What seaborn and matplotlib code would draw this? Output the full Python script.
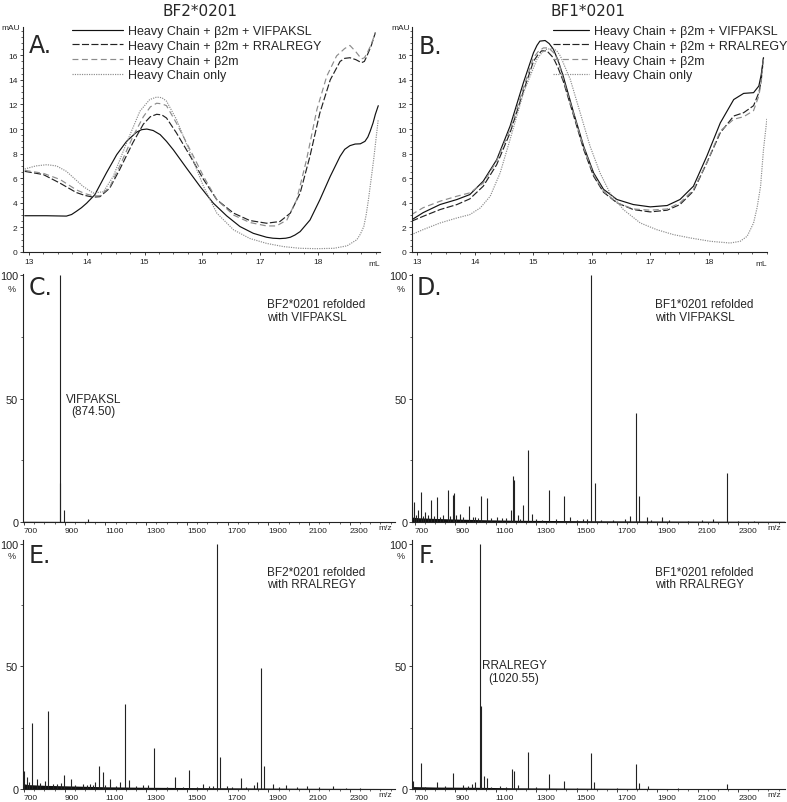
import matplotlib
matplotlib.use("Agg")
import matplotlib.pyplot as plt
import seaborn as sns
from matplotlib.ticker import MultipleLocator

W, H = 787, 803

# legend labels
labels = ["Heavy Chain + β2m + VIFPAKSL", "Heavy Chain + β2m + RRALREGY",
          "Heavy Chain + β2m", "Heavy Chain only"]

# --- chromatogram A: BF2*0201 (mL vs mAU) ---
a_vif_x = [12.93, 13.30, 13.65, 13.74, 13.82, 13.91, 14.00, 14.14, 14.34, 14.52, 14.69, 14.86, 14.95, 15.04, 15.15,
           15.27, 15.38, 15.50, 15.73, 15.96, 16.19, 16.42, 16.65, 16.88, 17.11, 17.22, 17.34, 17.44, 17.52, 17.60,
           17.69, 17.86, 18.03, 18.21, 18.38, 18.46, 18.55, 18.64, 18.73, 18.81, 18.86, 18.90, 18.95, 18.99, 19.04]
a_vif_y = [2.95, 2.95, 2.92, 3.05, 3.30, 3.60, 3.97, 4.65, 6.42, 7.92, 9.00, 9.74, 9.95, 10.0, 9.88,
           9.55, 9.00, 8.30, 6.80, 5.33, 3.97, 2.94, 2.07, 1.52, 1.20, 1.12, 1.09, 1.12, 1.20, 1.38,
           1.66, 2.60, 4.24, 6.15, 7.78, 8.35, 8.65, 8.78, 8.80, 9.00, 9.35, 9.82, 10.5, 11.2, 11.9]
a_rra_x = [12.93, 13.25, 13.54, 13.82, 13.97, 14.11, 14.23, 14.40, 14.57, 14.80, 14.98, 15.10, 15.21, 15.30, 15.38,
           15.55, 15.79, 16.02, 16.25, 16.54, 16.82, 17.11, 17.34, 17.52, 17.69, 17.86, 18.03, 18.21, 18.38, 18.46,
           18.55, 18.65, 18.75, 18.80, 18.84, 18.92, 18.99]
a_rra_y = [6.56, 6.30, 5.60, 4.84, 4.60, 4.46, 4.50, 5.20, 6.70, 8.90, 10.4, 11.0, 11.2, 11.15, 10.9,
           9.70, 7.80, 5.90, 4.25, 3.16, 2.56, 2.34, 2.48, 3.16, 4.80, 7.80, 11.3, 14.0, 15.5, 15.75,
           15.8, 15.65, 15.4, 15.5, 15.9, 16.8, 17.85]
a_b2m_x = [12.93, 13.25, 13.54, 13.82, 13.97, 14.11, 14.23, 14.40, 14.57, 14.80, 14.98, 15.10, 15.21, 15.30, 15.38,
           15.55, 15.79, 16.02, 16.25, 16.54, 16.82, 17.11, 17.28, 17.46, 17.63, 17.80, 17.98, 18.15, 18.32, 18.46,
           18.55, 18.65, 18.75, 18.80, 18.84, 18.92, 18.99]
a_b2m_y = [6.64, 6.40, 5.90, 5.06, 4.75, 4.57, 4.57, 5.30, 6.97, 9.40, 11.0, 11.8, 12.1, 12.05, 11.9,
           10.5, 8.30, 6.15, 4.25, 3.00, 2.40, 2.12, 2.12, 2.60, 4.25, 7.50, 11.6, 14.3, 15.95, 16.55,
           16.8, 16.3, 15.7, 15.8, 16.1, 16.9, 17.85]
a_hc_x = [12.93, 13.12, 13.31, 13.48, 13.65, 13.94, 14.11, 14.29, 14.46, 14.69, 14.92, 15.09, 15.21, 15.30, 15.38,
          15.55, 15.79, 16.02, 16.25, 16.54, 16.82, 17.11, 17.40, 17.69, 17.98, 18.27, 18.50, 18.67, 18.73, 18.79,
          18.83, 18.87, 18.96, 19.04]
a_hc_y = [6.75, 7.0, 7.10, 7.0, 6.56, 5.33, 4.80, 4.90, 6.15, 8.87, 11.45, 12.4, 12.6, 12.55, 12.27,
          10.8, 8.05, 5.33, 3.16, 1.80, 1.10, 0.70, 0.44, 0.30, 0.27, 0.30, 0.50, 1.00, 1.45, 2.07,
          3.0, 4.25, 7.50, 10.8]

# --- chromatogram B: BF1*0201 ---
b_vif_x = [12.91, 13.11, 13.40, 13.69, 13.91, 14.14, 14.37, 14.60, 14.83, 15.00, 15.06, 15.11, 15.20, 15.27, 15.34,
           15.42, 15.51, 15.69, 15.86, 16.03, 16.20, 16.43, 16.71, 17.00, 17.29, 17.51, 17.74, 17.97, 18.20, 18.43,
           18.60, 18.77, 18.86, 18.90, 18.94]
b_vif_y = [2.6, 3.2, 3.86, 4.27, 4.67, 5.76, 7.5, 10.24, 13.8, 16.2, 16.8, 17.15, 17.2, 16.95, 16.5,
           15.6, 14.3, 11.3, 8.6, 6.44, 5.1, 4.27, 3.86, 3.67, 3.78, 4.27, 5.35, 7.8, 10.5, 12.4,
           12.9, 12.96, 13.5, 14.4, 15.8]
b_rra_x = [12.91, 13.11, 13.40, 13.69, 13.91, 14.14, 14.37, 14.60, 14.83, 15.00, 15.07, 15.14, 15.23, 15.34, 15.42,
           15.51, 15.69, 15.86, 16.03, 16.20, 16.43, 16.71, 17.00, 17.29, 17.51, 17.74, 17.97, 18.20, 18.43, 18.60,
           18.77, 18.86, 18.90, 18.94]
b_rra_y = [2.5, 2.9, 3.45, 3.86, 4.32, 5.35, 7.1, 9.7, 13.1, 15.5, 16.0, 16.36, 16.36, 15.8, 15.0,
           13.9, 11.06, 8.34, 6.17, 4.86, 4.0, 3.45, 3.26, 3.4, 3.86, 4.95, 7.26, 9.7, 11.06, 11.33,
           11.9, 12.96, 13.9, 15.8]
b_b2m_x = [12.91, 13.11, 13.40, 13.69, 13.91, 14.14, 14.37, 14.60, 14.83, 15.00, 15.08, 15.17, 15.26, 15.37, 15.44,
           15.51, 15.69, 15.86, 16.03, 16.20, 16.43, 16.71, 17.00, 17.29, 17.51, 17.74, 17.97, 18.20, 18.43, 18.60,
           18.77, 18.86, 18.90, 18.94]
b_b2m_y = [3.04, 3.6, 4.13, 4.54, 4.81, 5.6, 7.4, 9.97, 13.37, 15.8, 16.3, 16.6, 16.6, 16.1, 15.3,
           14.05, 11.2, 8.5, 6.3, 4.95, 4.0, 3.5, 3.4, 3.5, 4.0, 5.08, 7.26, 9.84, 10.8, 11.0,
           11.5, 12.7, 13.8, 15.7]
b_hc_x = [12.91, 13.11, 13.40, 13.69, 13.91, 14.09, 14.26, 14.43, 14.60, 14.83, 15.06, 15.15, 15.23, 15.34, 15.40,
          15.46, 15.63, 15.80, 15.97, 16.14, 16.31, 16.54, 16.83, 17.11, 17.40, 17.69, 18.03, 18.37, 18.54, 18.66,
          18.77, 18.83, 18.89, 18.94, 19.00]
b_hc_y = [1.41, 1.82, 2.36, 2.77, 3.04, 3.59, 4.54, 6.44, 9.16, 12.96, 15.68, 16.25, 16.5, 16.55, 16.35,
          15.95, 14.05, 11.33, 8.6, 6.44, 4.8, 3.45, 2.36, 1.82, 1.41, 1.14, 0.87, 0.73, 0.87, 1.28,
          2.36, 3.6, 5.35, 8.34, 10.9]

chrom_ticks = [13, 14, 15, 16, 17, 18]
chrom_yticks = [0, 2, 4, 6, 8, 10, 12, 14, 16]

# --- mass spectra (m/z, relative intensity %) ---
c_mz = [874.5, 875.5, 896, 1012]
c_int = [100, 16, 4.7, 1.3]
c_base_mz = [694, 900, 1500, 2520]
c_base_int = [0.3, 0.25, 0.15, 0.1]

d_mz = [684, 695, 705, 716, 728, 740, 750, 765, 778, 795, 807, 824, 840, 862, 875, 886, 893, 905, 923, 940, 967, 985,
        997, 1010, 1025, 1055, 1075, 1104, 1130, 1150, 1174, 1184, 1192, 1208, 1220, 1233, 1261, 1278, 1300, 1330,
        1363, 1400, 1438, 1467, 1500, 1530, 1550, 1570, 1589, 1620, 1680, 1740, 1764, 1792, 1807, 1847, 1870, 1921,
        1960, 2050, 2120, 2177, 2243, 2300, 2380]
d_int = [6, 8, 3, 4.7, 12, 2.5, 4, 3, 9, 2.5, 10, 2, 3, 13, 2.5, 11, 11.8, 2.8, 3.4, 2, 6.4, 2.2,
         2, 1.8, 10.5, 9.8, 1.6, 2, 1.5, 1.8, 4.7, 18.5, 17, 2.7, 1.4, 7, 29, 3.4, 1.2, 1.0,
         13, 1.1, 10.7, 2, 1.0, 1.2, 1.3, 100, 16, 0.9, 0.8, 1.2, 2.4, 44, 10.5, 2, 0.8, 2,
         0.7, 0.6, 0.8, 1.3, 20, 0.5, 0.5]
d_base_mz = [685, 720, 780, 860, 950, 1050, 1200, 1400, 1600, 1800, 2000, 2200, 2530]
d_base_int = [2.0, 1.7, 1.5, 1.3, 1.1, 0.9, 0.7, 0.6, 0.5, 0.45, 0.4, 0.35, 0.3]

e_mz = [700, 713, 725, 741, 762, 780, 803, 819, 840, 860, 880, 898, 931, 950, 991, 1010, 1024, 1040, 1049, 1067,
        1086, 1100, 1122, 1150, 1171, 1197, 1217, 1250, 1286, 1310, 1338, 1400, 1441, 1480, 1512, 1550, 1580,
        1610, 1630, 1646, 1662, 1695, 1720, 1764, 1790, 1830, 1846, 1864, 1880, 1924, 1950, 1985, 2040, 2088,
        2150, 2219, 2280, 2350]
e_int = [7.4, 4.7, 3, 27, 4, 2.5, 3.4, 31.8, 2.2, 2, 2.5, 5.7, 4, 1.8, 2, 1.5, 2, 1.8, 2.7, 9.5,
         7, 1.5, 4, 1.4, 2.7, 34.5, 3.8, 1.2, 1.8, 1.5, 16.6, 1.0, 4.7, 1.0, 7.7, 1.0, 2,
         1.2, 1.4, 100, 13.2, 1.4, 1.0, 4.3, 0.9, 1.5, 2.7, 49.5, 9.5, 2, 0.8, 1.6, 0.9, 1.4,
         0.7, 1.1, 0.5, 0.5]
e_base_mz = [694, 720, 800, 900, 1000, 1100, 1300, 1500, 1700, 1900, 2100, 2520]
e_base_int = [2.2, 1.8, 1.5, 1.3, 1.1, 0.9, 0.7, 0.6, 0.5, 0.4, 0.3, 0.2]

f_mz = [692, 728, 750, 807, 850, 890, 940, 960, 980, 997, 1020.55, 1027, 1043, 1058, 1075, 1121, 1150, 1182, 1190,
        1212, 1261, 1300, 1365, 1439, 1500, 1571, 1586, 1700, 1792, 1807, 1855, 2000, 2246]
f_int = [3.4, 10.5, 1, 2.7, 1.2, 6.7, 1.5, 1.2, 2, 2.7, 100, 34, 5.4, 4.3, 1, 1.3, 1, 8.3, 7.4,
         1.6, 15.2, 0.8, 6, 3.4, 0.6, 14.5, 3, 0.5, 10, 2.4, 1.3, 0.4, 2]
f_base_mz = [685, 800, 1000, 1200, 1500, 2000, 2530]
f_base_int = [1.0, 0.8, 0.7, 0.5, 0.35, 0.2, 0.1]

ms_ticks = [700, 900, 1100, 1300, 1500, 1700, 1900, 2100, 2300]

sns.set_style("ticks")
plt.rcParams["font.family"] = ["Liberation Sans", "DejaVu Sans"]
plt.rcParams["axes.linewidth"] = 0.8
plt.rcParams["axes.edgecolor"] = "#222222"

fig = plt.figure(figsize=(W / 100, H / 100), dpi=100)


def box(l, t, r, b):
    return [l / W, 1 - b / H, (r - l) / W, (b - t) / H]


def ftext(x, y, s, **kw):
    fig.text(x / W, 1 - y / H, s, **kw)


styles = [("#111111", 0.85, "-"), ("#222222", 0.85, (0, (6, 2))),
          ("#8c8c8c", 0.85, (0, (5, 3))), ("#8c8c8c", 0.85, (0, (1, 1)))]


def chrom(ax, series, xlim, leg_x, hlen):
    for (x, y), (col, lw, ls), lab in zip(series, styles, labels):
        sns.lineplot(x=x, y=y, ax=ax, color=col, linewidth=lw, linestyle=ls, label=lab,
                     solid_joinstyle="round", dash_joinstyle="round")
    ax.set_xlim(*xlim)
    ax.set_ylim(0, 18.3)
    ax.set_xticks(chrom_ticks)
    ax.set_yticks(chrom_yticks)
    ax.xaxis.set_minor_locator(MultipleLocator(0.25))
    ax.yaxis.set_minor_locator(MultipleLocator(0.5))
    ax.tick_params(labelsize=6, length=2.5, width=0.6, pad=1.5, colors="#222222")
    ax.tick_params(which="minor", length=1.2, width=0.5)
    ax.set_xlabel("")
    ax.set_ylabel("")
    sns.despine(ax=ax)
    ax.legend(loc="upper left", bbox_to_anchor=(leg_x / W, 1 - 26 / H), bbox_transform=fig.transFigure,
              frameon=False, fontsize=9, handlelength=hlen, handletextpad=0.4, labelspacing=0.22,
              borderpad=0, borderaxespad=0)


def spectrum(ax, mz, inten, base_mz, base_int, xlim, ytop):
    ax.fill_between(base_mz, 0, base_int, color="#111111", lw=0)
    ax.vlines(mz, 0, inten, color="#222222", lw=0.8)
    ax.set_xlim(*xlim)
    ax.set_ylim(0, ytop)
    ax.set_xticks(ms_ticks)
    ax.set_yticks([0, 50, 100])
    ax.xaxis.set_minor_locator(MultipleLocator(50))
    ax.yaxis.set_minor_locator(MultipleLocator(25))
    ax.tick_params(axis="x", labelsize=6, length=2.5, width=0.6, pad=1, colors="#222222")
    ax.tick_params(axis="y", labelsize=7.8, length=2.5, width=0.6, pad=1, colors="#222222")
    ax.tick_params(which="minor", length=1.2, width=0.5)
    plt.setp(ax.get_xticklabels(), ha="left")
    sns.despine(ax=ax)


ax_a = fig.add_axes(box(23, 28, 380, 253))
chrom(ax_a, [(a_vif_x, a_vif_y), (a_rra_x, a_rra_y), (a_b2m_x, a_b2m_y), (a_hc_x, a_hc_y)],
      (12.9, 19.07), 72, 4.1)
ax_b = fig.add_axes(box(412, 28, 767, 253))
chrom(ax_b, [(b_vif_x, b_vif_y), (b_rra_x, b_rra_y), (b_b2m_x, b_b2m_y), (b_hc_x, b_hc_y)],
      (12.92, 19.0), 553, 2.9)

ax_c = fig.add_axes(box(23, 275, 395, 523))
spectrum(ax_c, c_mz, c_int, c_base_mz, c_base_int, (695, 2522), 100.5)
ax_d = fig.add_axes(box(412, 275, 785, 523))
spectrum(ax_d, d_mz, d_int, d_base_mz, d_base_int, (685, 2532), 100.5)
ax_e = fig.add_axes(box(23, 541, 395, 790))
spectrum(ax_e, e_mz, e_int, e_base_mz, e_base_int, (695, 2522), 101.5)
ax_f = fig.add_axes(box(412, 541, 785, 790))
spectrum(ax_f, f_mz, f_int, f_base_mz, f_base_int, (685, 2532), 101.5)

# peak labels
ax_c.text(1040, 47.4, "VIFPAKSL\n(874.50)", ha="center", va="center", fontsize=8.5, linespacing=1.1)
ax_f.text(1190, 47.8, "RRALREGY\n(1020.55)", ha="center", va="center", fontsize=8.5, linespacing=1.1)

# titles, panel letters and unit labels
ftext(200, 11, "BF2*0201", ha="center", va="center", fontsize=11, family="DejaVu Sans")
ftext(588, 11, "BF1*0201", ha="center", va="center", fontsize=11, family="DejaVu Sans")
for x, y, s in [(29, 53, "A."), (419, 54, "B."), (29, 295, "C."), (417, 295, "D."), (29, 563, "E."), (419, 563, "F.")]:
    ftext(x, y, s, ha="left", va="baseline", fontsize=17, family="DejaVu Sans")
for x in (1, 391):
    ftext(x, 28, "mAU", ha="left", va="center", fontsize=6)
ftext(368, 264, "mL", ha="left", va="center", fontsize=6)
ftext(755, 264, "mL", ha="left", va="center", fontsize=6)
for x, y in [(378, 529), (767, 529), (378, 796), (767, 796)]:
    ftext(x, y, "m/z", ha="left", va="center", fontsize=6)
for x, y in [(12, 289), (401, 289), (12, 557), (401, 557)]:
    ftext(x, y, "%", ha="center", va="center", fontsize=6.5)
for x, y, s in [(267, 311.5, "BF2*0201 refolded\nwith VIFPAKSL"), (655, 311.5, "BF1*0201 refolded\nwith VIFPAKSL"),
                (267, 579, "BF2*0201 refolded\nwith RRALREGY"), (655, 579, "BF1*0201 refolded\nwith RRALREGY")]:
    ftext(x, y, s, ha="left", va="center", fontsize=8.5, linespacing=1.1)

fig.savefig("out.png", dpi=100)
